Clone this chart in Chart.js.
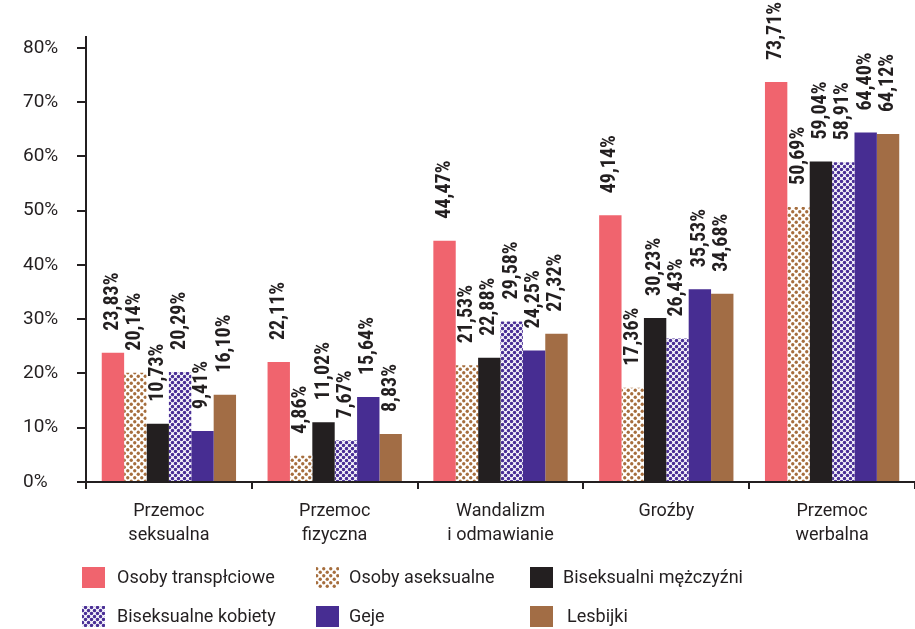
<!DOCTYPE html>
<html><head><meta charset="utf-8">
<script src="https://cdn.jsdelivr.net/npm/chart.js@4.4.1/dist/chart.umd.min.js"></script>
<style>html,body{margin:0;padding:0;background:#fff;overflow:hidden}#wrap{width:915px;height:629px;position:relative}</style>
</head><body><div id="wrap"><canvas id="c" width="915" height="629"></canvas></div>
<script>
const categories = [["Przemoc","seksualna"],["Przemoc","fizyczna"],["Wandalizm","i odmawianie"],["Groźby"],["Przemoc","werbalna"]];
const seriesNames = ["Osoby transpłciowe","Osoby aseksualne","Biseksualni mężczyźni","Biseksualne kobiety","Geje","Lesbijki"];
const transValues = [23.83,22.11,44.47,49.14,73.71];
const asexValues = [20.14,4.86,21.53,17.36,50.69];
const biMenValues = [10.73,11.02,22.88,30.23,59.04];
const biWomenValues = [20.29,7.67,29.58,26.43,58.91];
const gayValues = [9.41,15.64,24.25,35.53,64.40];
const lesbianValues = [16.10,8.83,27.32,34.68,64.12];
const yTicks = [0,10,20,30,40,50,60,70,80];

const INK = '#231f20';
function dots(color, r, size){
  const c = document.createElement('canvas'); c.width = size; c.height = size;
  const x = c.getContext('2d');
  x.fillStyle = '#fff'; x.fillRect(0,0,size,size);
  x.fillStyle = color;
  const base = [[size/4,size/4],[3*size/4,3*size/4]];
  base.forEach(p=>{
    for (let dx=-size; dx<=size; dx+=size) for (let dy=-size; dy<=size; dy+=size){
      x.beginPath(); x.arc(p[0]+dx,p[1]+dy,r,0,Math.PI*2); x.fill();
    }
  });
  return x.createPattern(c,'repeat');
}
const asexPattern = dots('#a66e3e', 1.65, 7);
const biWomenPattern = dots('#4a2f96', 1.75, 6);
const fills = ['#f0646e', asexPattern, INK, biWomenPattern, '#472d92', '#a26d45'];
const seriesValues = [transValues, asexValues, biMenValues, biWomenValues, gayValues, lesbianValues];

const fmt = v => v.toFixed(2).replace('.', ',') + '%';

const valueLabels = {
  id:'valueLabels',
  afterDatasetsDraw(chart){
    const ctx = chart.ctx;
    ctx.save();
    ctx.fillStyle = INK;
    ctx.font = 'bold 20px "Liberation Sans Narrow", "Roboto Condensed", "DejaVu Sans Condensed", sans-serif';
    ctx.textAlign = 'left'; ctx.textBaseline = 'middle';
    chart.data.datasets.forEach((ds, di)=>{
      const meta = chart.getDatasetMeta(di);
      meta.data.forEach((bar, i)=>{
        const t = fmt(ds.data[i]);
        ctx.save();
        ctx.translate(bar.x, bar.y - 22);
        ctx.rotate(-Math.PI/2);
        ctx.fillText(t, 0, 0);
        ctx.restore();
      });
    });
    ctx.restore();
  }
};

const legendPos = [[82,567,117],[316,567,349],[530,567,563],[82,606,117],[316,606,349],[530,606,567]];
const customLegend = {
  id:'customLegend',
  afterDraw(chart){
    const ctx = chart.ctx;
    ctx.save();
    ctx.font = '18px Roboto, sans-serif';
    ctx.textBaseline = 'middle'; ctx.textAlign = 'left';
    chart.data.datasets.forEach((ds, i)=>{
      const p = legendPos[i];
      ctx.fillStyle = ds.backgroundColor;
      ctx.fillRect(p[0], p[1], 23, 21);
      ctx.fillStyle = INK;
      ctx.fillText(ds.label, p[2], p[1] + 11);
    });
    ctx.restore();
  }
};

new Chart(document.getElementById('c'), {
  type:'bar',
  data:{
    labels: categories,
    datasets: seriesNames.map((n,i)=>({label:n, data:seriesValues[i], backgroundColor:fills[i], borderWidth:0, categoryPercentage:0.81, barPercentage:1}))
  },
  options:{
    responsive:false, animation:false,
    layout:{padding:{left:23, top:37, right:0, bottom:0}},
    plugins:{legend:{display:false}, tooltip:{enabled:false}},
    scales:{
      x:{
        grid:{display:true, drawOnChartArea:false, drawTicks:true, tickLength:7, color:INK, lineWidth:2, offset:true},
        border:{display:true, color:INK, width:2},
        ticks:{color:INK, font:{family:'Roboto', size:18, lineHeight:1.35}, padding:10, maxRotation:0, autoSkip:false},
        afterFit(s){ s.height = 629 - 482; }
      },
      y:{
        min:0, max:82,
        afterBuildTicks(s){ s.ticks = yTicks.map(v=>({value:v})); },
        grid:{drawOnChartArea:false, tickLength:9, color:INK, lineWidth:2},
        border:{color:INK, width:2},
        ticks:{crossAlign:'far', padding:20, color:INK, font:{family:'Roboto', size:19}, callback:v=>v+'%'},
        afterFit(s){ s.width = 63; }
      }
    }
  },
  plugins:[valueLabels, customLegend]
});
</script>
</body></html>
